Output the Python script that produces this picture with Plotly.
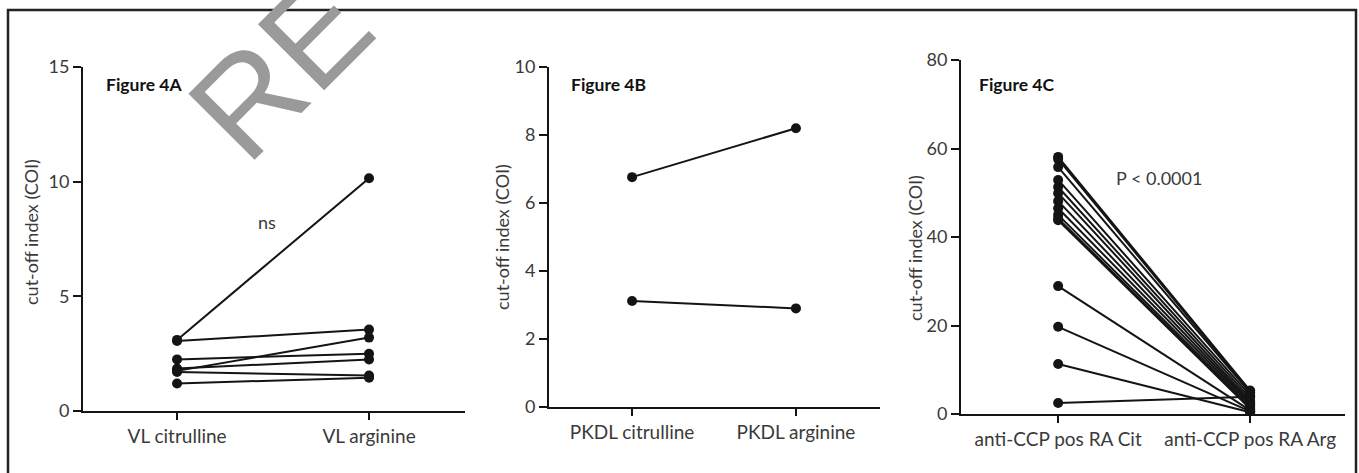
import plotly.graph_objects as go

# ---------------- data ----------------
a_categories = ["VL citrulline", "VL arginine"]
a_citrulline = [3.10, 3.05, 2.25, 1.75, 1.85, 1.70, 1.20]
a_arginine = [10.15, 3.55, 2.50, 3.20, 2.25, 1.55, 1.45]

b_categories = ["PKDL citrulline", "PKDL arginine"]
b_citrulline = [6.76, 3.12]
b_arginine = [8.20, 2.90]

c_categories = ["anti-CCP pos RA Cit", "anti-CCP pos RA Arg"]
c_citrulline = [58.1, 57.6, 55.8, 52.9, 51.3, 49.9, 48.1, 46.5, 45.0, 44.2, 43.8, 28.9, 19.7, 11.3, 2.5]
c_arginine = [5.3, 5.0, 4.8, 4.2, 3.6, 3.0, 2.6, 2.2, 1.8, 1.4, 1.2, 0.8, 0.6, 0.4, 3.9]

a_yticks = [0, 5, 10, 15]
b_yticks = [0, 2, 4, 6, 8, 10]
c_yticks = [0, 20, 40, 60, 80]

y_title = "cut-off index (COI)"
panel_labels = ["Figure 4A", "Figure 4B", "Figure 4C"]
a_note = "ns"
c_note = "P < 0.0001"
watermark = "RE"

# ---------------- figure ----------------
W, H = 1359, 473
FONT = "Lato"
DARK = "#141414"
TXT = "#3a3a3a"

fig = go.Figure()


def add_pairs(cats, before, after, xa, ya):
    xs, ys = [], []
    for b, a in zip(before, after):
        xs += [cats[0], cats[1], None]
        ys += [b, a, None]
    fig.add_trace(go.Scatter(
        x=xs, y=ys, mode="lines+markers", xaxis=xa, yaxis=ya,
        line=dict(color=DARK, width=2),
        marker=dict(color=DARK, size=10),
        showlegend=False, hoverinfo="skip", connectgaps=False,
    ))


add_pairs(a_categories, a_citrulline, a_arginine, "x", "y")
add_pairs(b_categories, b_citrulline, b_arginine, "x2", "y2")
add_pairs(c_categories, c_citrulline, c_arginine, "x3", "y3")

panels = [
    dict(xl=83, xr=465, yb=411, yt=67, xr_rng=[-0.49, 1.50], yr=[0, 15], ticks=a_yticks, cats=a_categories),
    dict(xl=549, xr=880, yb=407, yt=67, xr_rng=[-0.507, 1.513], yr=[0, 10], ticks=b_yticks, cats=b_categories),
    dict(xl=961, xr=1345, yb=414, yt=60, xr_rng=[-0.506, 1.494], yr=[0, 80], ticks=c_yticks, cats=c_categories),
]

layout = dict(
    width=W, height=H, autosize=False,
    margin=dict(l=0, r=0, t=0, b=0, autoexpand=False),
    paper_bgcolor="white", plot_bgcolor="white",
    font=dict(family=FONT, color=TXT),
)

for i, p in enumerate(panels):
    sfx = "" if i == 0 else str(i + 1)
    layout["xaxis" + sfx] = dict(
        domain=[p["xl"] / W, p["xr"] / W],
        anchor="y" + sfx,
        type="category",
        range=p["xr_rng"],
        showline=True, linecolor=DARK, linewidth=2,
        ticks="outside", ticklen=7, tickwidth=2, tickcolor=DARK,
        showgrid=False, zeroline=False,
        tickfont=dict(family=FONT, size=19, color=TXT),
        categoryorder="array", categoryarray=p["cats"],
    )
    layout["yaxis" + sfx] = dict(
        domain=[1 - p["yb"] / H, 1 - p["yt"] / H],
        anchor="x" + sfx,
        range=p["yr"],
        tickvals=p["ticks"],
        showline=True, linecolor=DARK, linewidth=2,
        ticks="outside", ticklen=8, tickwidth=2, tickcolor=DARK,
        showgrid=False, zeroline=False,
        tickfont=dict(family=FONT, size=18, color=TXT),
    )

fig.update_layout(**layout)

annotations = []
for (xc, yc) in [(31, 232), (502, 237), (915, 248)]:
    annotations.append(dict(
        text=y_title, x=xc / W, y=1 - yc / H, xref="paper", yref="paper",
        showarrow=False, textangle=-90, xanchor="center", yanchor="middle",
        font=dict(family=FONT, size=18, color=TXT),
    ))
for (xl, yc), lab in zip([(104, 84), (569, 84), (977, 84)], panel_labels):
    annotations.append(dict(
        text="<b>" + lab + "</b>", x=xl / W, y=1 - yc / H, xref="paper", yref="paper",
        showarrow=False, xanchor="left", yanchor="middle",
        font=dict(family=FONT, size=17.5, color="#111111"),
    ))
annotations.append(dict(
    text=a_note, x=267 / W, y=1 - 222 / H, xref="paper", yref="paper",
    showarrow=False, xanchor="center", yanchor="middle",
    font=dict(family=FONT, size=18, color=TXT),
))
annotations.append(dict(
    text=c_note, x=1159 / W, y=1 - 178 / H, xref="paper", yref="paper",
    showarrow=False, xanchor="center", yanchor="middle",
    font=dict(family=FONT, size=18, color=TXT),
))
shapes = [dict(
    type="rect", xref="paper", yref="paper",
    x0=8 / W, x1=1356 / W, y0=-0.05, y1=1 - 10 / H,
    line=dict(color="#222222", width=2.5), fillcolor="rgba(0,0,0,0)",
    layer="below",
)]
annotations.append(dict(
    text=watermark, x=280 / W, y=1 - 68 / H, xref="paper", yref="paper",
    showarrow=False, textangle=-45, xanchor="center", yanchor="middle",
    font=dict(family="Liberation Sans", size=136, color="#9a9a9a"),
))

fig.update_layout(annotations=annotations, shapes=shapes)

fig.write_html(
    "out.html",
    config={"displayModeBar": False, "responsive": False},
    post_script="document.body.style.margin='0px';document.body.style.overflow='hidden';",
)
